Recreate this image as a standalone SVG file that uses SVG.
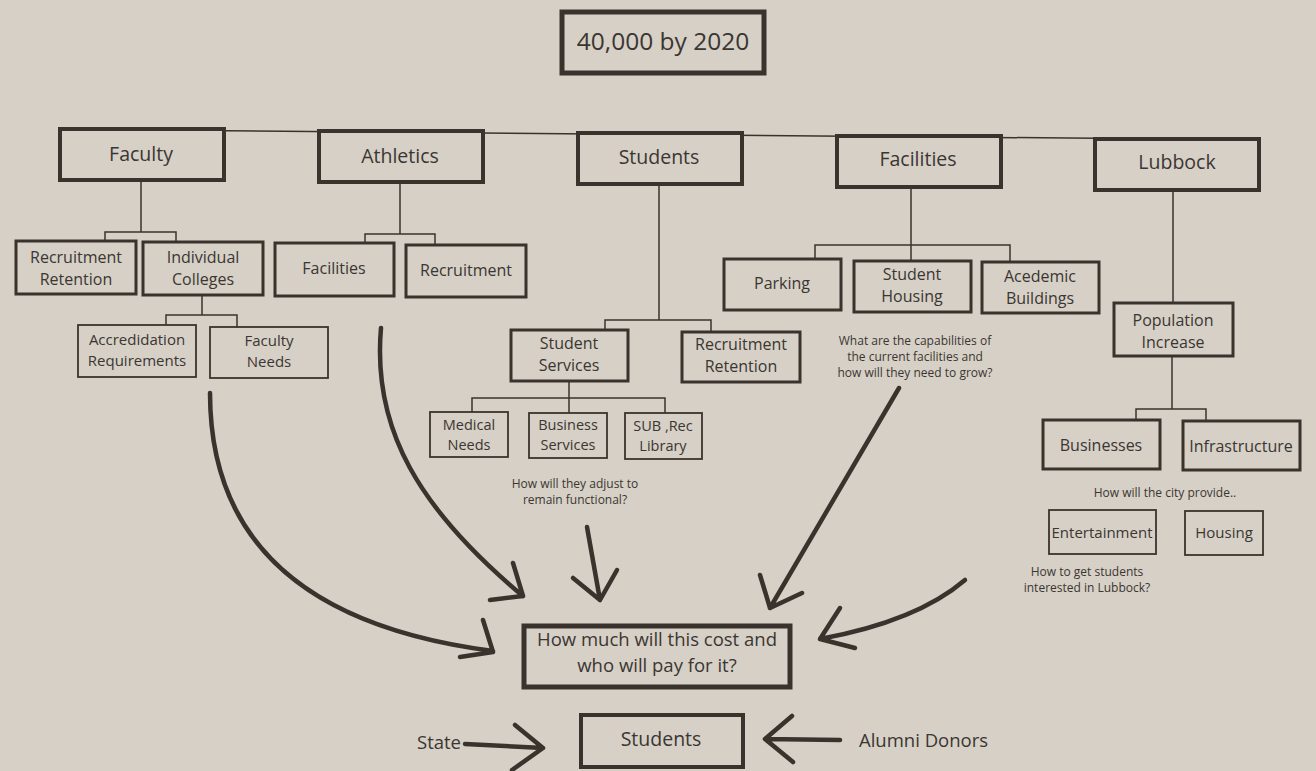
<svg xmlns="http://www.w3.org/2000/svg" width="1316" height="771" viewBox="0 0 1316 771">
<defs>
<style>
.bg{fill:#d6d0c6}
.b{fill:#d6d0c6;stroke:#3a332d}
.b5{stroke-width:5}
.b4{stroke-width:4}
.b3{stroke-width:3}
.b2{stroke-width:1.8}
.ln{fill:none;stroke:#3a332d;stroke-width:1.5}
.ar{fill:none;stroke:#3a332d;stroke-width:4.5;stroke-linecap:round;stroke-linejoin:round}
text{font-family:"Open Sans","Noto Sans","Liberation Sans",sans-serif;fill:#3b3632;text-anchor:middle}
.t1{font-size:24.5px}
.t2{font-size:19.5px}
.t3{font-size:16px}
.t4{font-size:15px}
.t4s{font-size:14.5px}
.t5{font-size:12px}
.t6{font-size:18.5px}
.st{text-anchor:start}
</style>
</defs>
<rect class="bg" x="0" y="0" width="1316" height="771"/>

<g id="connectors">
<path class="ln" d="M141,130 L1176,139"/>
<path class="ln" d="M141,180 V232 M105,240 V232 H176 V241"/>
<path class="ln" d="M202,295 V315 M166,325 V315 H237 V327"/>
<path class="ln" d="M400,182 V234 M365,242 V234 H435 V244"/>
<path class="ln" d="M659,184 V320 M605,330 V320 H711 V331"/>
<path class="ln" d="M569,381 V413 M472,412 V398 H665 V413"/>
<path class="ln" d="M911,187 V260 M815,258 V245 H1010 V261"/>
<path class="ln" d="M1173,190 V302 M1172,356 V409 M1136,419 V409 H1206 V420"/>
<path class="ar" d="M210,393 C210,560 330,630 493,651 M483,620 L493,652 L460,657"/>
<path class="ar" d="M381,328 C372,430 420,510 523,596 M513,563 L523,596 L490,600"/>
<path class="ar" d="M587,527 L600,600 M573,578 L600,600 L617,570"/>
<path class="ar" d="M899,388 L770,608 M760,575 L770,608 L802,593"/>
<path class="ar" d="M965,580 C930,610 880,628 820,639 M840,608 L820,639 L855,648"/>
<path class="ar" d="M465,744 L543,748 M515,725 L543,748 L512,770"/>
<path class="ar" d="M840,740 L765,739 M792,716 L765,739 L793,762"/>
</g>

<g id="n-top"><rect class="b b5" x="562" y="12" width="202" height="61"/><text class="t1" x="663" y="50">40,000 by 2020</text></g>

<g id="n-faculty"><rect class="b b4" x="60" y="129" width="164" height="51"/><text class="t2" x="141" y="161">Faculty</text></g>
<g id="n-athletics"><rect class="b b4" x="319" y="131" width="164" height="51"/><text class="t2" x="400" y="163">Athletics</text></g>
<g id="n-students"><rect class="b b4" x="578" y="133" width="164" height="51"/><text class="t2" x="659" y="164">Students</text></g>
<g id="n-facilities"><rect class="b b4" x="837" y="136" width="164" height="51"/><text class="t2" x="918" y="166">Facilities</text></g>
<g id="n-lubbock"><rect class="b b4" x="1095" y="139" width="164" height="51"/><text class="t2" x="1177" y="169">Lubbock</text></g>

<g id="n-recret1"><rect class="b b3" x="16" y="241" width="120" height="53"/><text class="t3" x="76" y="263">Recruitment</text><text class="t3" x="76" y="285">Retention</text></g>
<g id="n-indcol"><rect class="b b3" x="143" y="242" width="120" height="53"/><text class="t3" x="203" y="263">Individual</text><text class="t3" x="203" y="285">Colleges</text></g>
<g id="n-accred"><rect class="b b2" x="78" y="325" width="118" height="52"/><text class="t4" x="137" y="345">Accredidation</text><text class="t4" x="137" y="366">Requirements</text></g>
<g id="n-facneeds"><rect class="b b2" x="210" y="327" width="118" height="51"/><text class="t4" x="269" y="346">Faculty</text><text class="t4" x="269" y="367">Needs</text></g>

<g id="n-athfac"><rect class="b b3" x="275" y="243" width="119" height="53"/><text class="t3" x="334" y="274">Facilities</text></g>
<g id="n-athrec"><rect class="b b3" x="406" y="245" width="120" height="52"/><text class="t3" x="466" y="276">Recruitment</text></g>

<g id="n-stuserv"><rect class="b b3" x="511" y="330" width="117" height="51"/><text class="t3" x="569" y="349">Student</text><text class="t3" x="569" y="371">Services</text></g>
<g id="n-recret2"><rect class="b b3" x="682" y="332" width="118" height="50"/><text class="t3" x="741" y="350">Recruitment</text><text class="t3" x="741" y="372">Retention</text></g>
<g id="n-medical"><rect class="b b2" x="430" y="412" width="78" height="45"/><text class="t4s" x="469" y="430">Medical</text><text class="t4s" x="469" y="450">Needs</text></g>
<g id="n-business"><rect class="b b2" x="529" y="413" width="78" height="45"/><text class="t4s" x="568" y="430">Business</text><text class="t4s" x="568" y="450">Services</text></g>
<g id="n-sub"><rect class="b b2" x="625" y="413" width="77" height="46"/><text class="t4s" x="663" y="431">SUB ,Rec</text><text class="t4s" x="663" y="451">Library</text></g>
<g id="note-adjust"><text class="t5" x="575" y="488">How will they adjust to</text><text class="t5" x="575" y="504">remain functional?</text></g>

<g id="n-parking"><rect class="b b3" x="724" y="259" width="117" height="51"/><text class="t3" x="782" y="289">Parking</text></g>
<g id="n-housing"><rect class="b b3" x="854" y="261" width="117" height="51"/><text class="t3" x="912" y="280">Student</text><text class="t3" x="912" y="302">Housing</text></g>
<g id="n-acad"><rect class="b b3" x="982" y="262" width="117" height="51"/><text class="t3" x="1040" y="282">Acedemic</text><text class="t3" x="1040" y="304">Buildings</text></g>
<g id="note-capab"><text class="t5" x="915" y="345">What are the capabilities of</text><text class="t5" x="915" y="361">the current facilities and</text><text class="t5" x="915" y="377">how will they need to grow?</text></g>

<g id="n-pop"><rect class="b b3" x="1114" y="303" width="119" height="53"/><text class="t3" x="1173" y="326">Population</text><text class="t3" x="1173" y="348">Increase</text></g>
<g id="n-businesses"><rect class="b b3" x="1043" y="420" width="117" height="49"/><text class="t3" x="1101" y="451">Businesses</text></g>
<g id="n-infra"><rect class="b b3" x="1183" y="421" width="117" height="49"/><text class="t3" x="1241" y="452">Infrastructure</text></g>
<g id="note-city"><text class="t5" x="1165" y="497">How will the city provide..</text></g>
<g id="n-ent"><rect class="b b2" x="1049" y="510" width="107" height="44"/><text class="t4" x="1102" y="538">Entertainment</text></g>
<g id="n-hous2"><rect class="b b2" x="1185" y="511" width="78" height="44"/><text class="t4" x="1224" y="538">Housing</text></g>
<g id="note-lubbock"><text class="t5" x="1087" y="576">How to get students</text><text class="t5" x="1087" y="592">interested in Lubbock?</text></g>

<g id="n-cost"><rect class="b b5" x="524" y="626" width="266" height="61"/><text class="t6" x="657" y="646">How much will this cost and</text><text class="t6" x="657" y="672">who will pay for it?</text></g>
<g id="n-students2"><rect class="b b4" x="581" y="715" width="162" height="52"/><text class="t2" x="661" y="746">Students</text></g>
<g id="n-state"><text class="t6 st" x="417" y="749">State</text></g>
<g id="n-alumni"><text class="t6 st" x="859" y="747">Alumni Donors</text></g>
</svg>
